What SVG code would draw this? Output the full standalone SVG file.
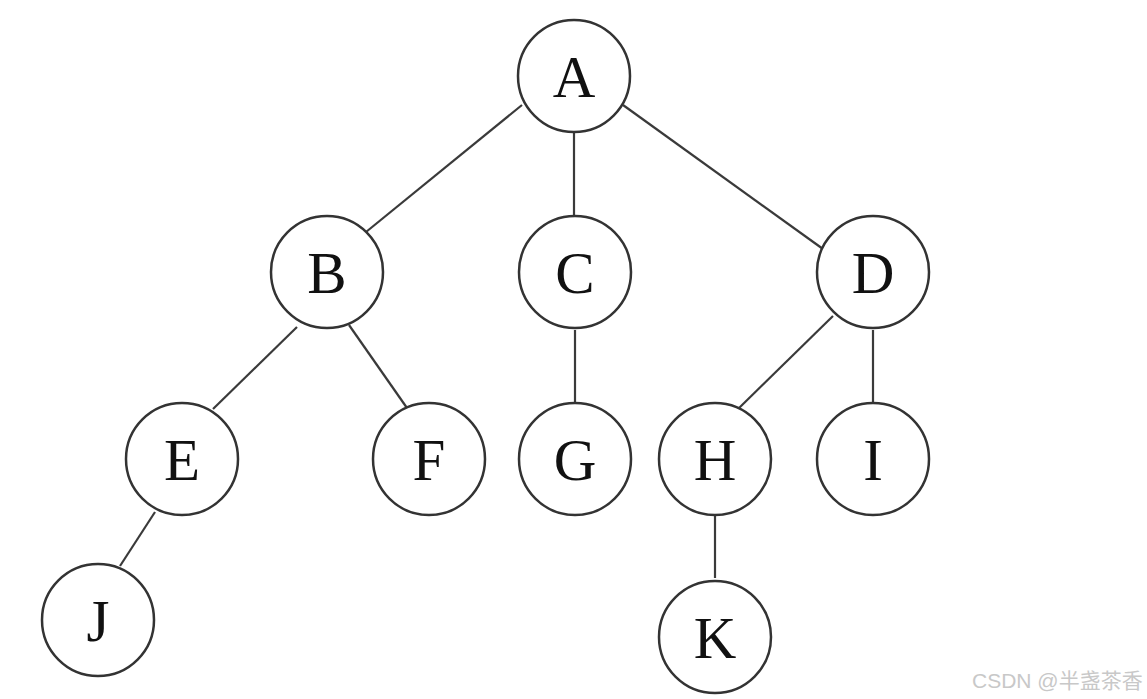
<svg xmlns="http://www.w3.org/2000/svg" width="1147" height="699" viewBox="0 0 1147 699">
<style>
.n circle{fill:#fff;stroke:#333;stroke-width:2.5}
.n text{font-family:"Liberation Serif","Times New Roman",serif;font-size:59px;fill:#111;text-anchor:middle}
#edges line{stroke:#3a3a3a;stroke-width:2.2}
.wm{font-family:"Liberation Sans","Noto Sans CJK SC",sans-serif;font-size:21px;fill:#c8c8c8}
</style>
<rect width="1147" height="699" fill="#fff"/>
<g id="edges">
<line x1="522" y1="105" x2="366" y2="232"/>
<line x1="574" y1="133" x2="574" y2="215"/>
<line x1="623" y1="105" x2="823" y2="249"/>
<line x1="297" y1="327" x2="213" y2="409"/>
<line x1="349" y1="325" x2="407" y2="408"/>
<line x1="575" y1="330" x2="575" y2="402"/>
<line x1="833" y1="316" x2="737" y2="410"/>
<line x1="873" y1="330" x2="873" y2="402"/>
<line x1="155" y1="512" x2="120" y2="566"/>
<line x1="715" y1="516" x2="715" y2="578"/>
</g>
<g id="A" class="n"><circle cx="574" cy="76" r="56"/><text x="574" y="97">A</text></g>
<g id="B" class="n"><circle cx="327" cy="272" r="56"/><text x="327" y="293">B</text></g>
<g id="C" class="n"><circle cx="575" cy="272" r="56"/><text x="575" y="293">C</text></g>
<g id="D" class="n"><circle cx="873" cy="272" r="56"/><text x="873" y="293">D</text></g>
<g id="E" class="n"><circle cx="182" cy="459" r="56"/><text x="182" y="480">E</text></g>
<g id="F" class="n"><circle cx="429" cy="459" r="56"/><text x="429" y="480">F</text></g>
<g id="G" class="n"><circle cx="575" cy="459" r="56"/><text x="575" y="480">G</text></g>
<g id="H" class="n"><circle cx="715" cy="459" r="56"/><text x="715" y="480">H</text></g>
<g id="I" class="n"><circle cx="873" cy="459" r="56"/><text x="873" y="480">I</text></g>
<g id="J" class="n"><circle cx="98" cy="620" r="56"/><text x="98" y="641">J</text></g>
<g id="K" class="n"><circle cx="715" cy="637" r="56"/><text x="715" y="658">K</text></g>
<text class="wm" x="972" y="688">CSDN @半盏茶香</text>
</svg>
